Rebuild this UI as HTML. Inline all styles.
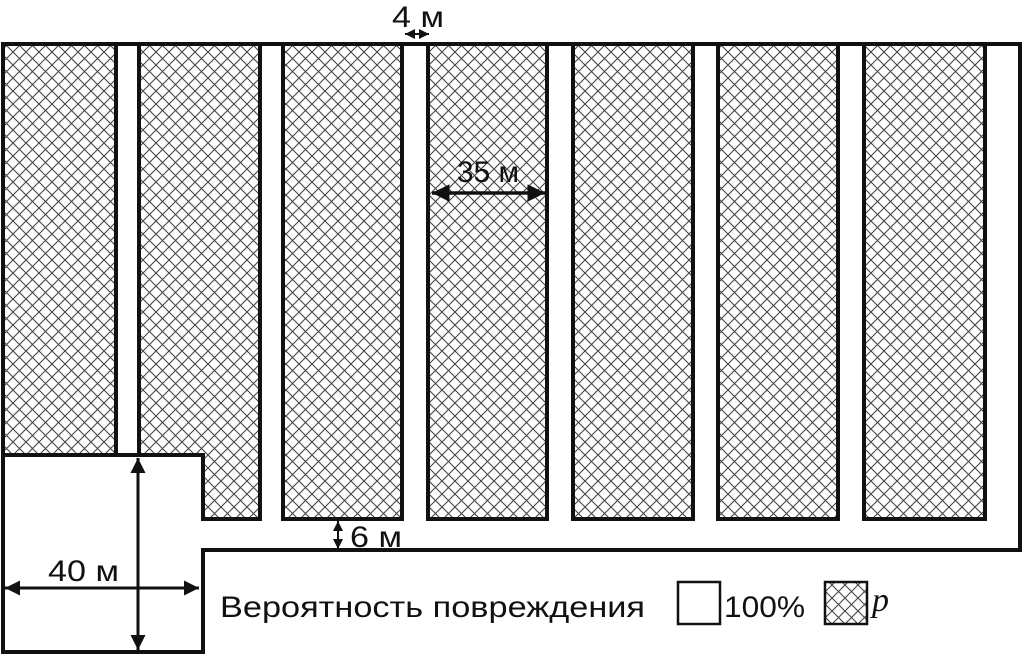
<!DOCTYPE html>
<html><head><meta charset="utf-8"><style>html,body{margin:0;padding:0;background:#fff}svg{display:block}</style></head>
<body>
<svg width="1024" height="655" viewBox="0 0 1024 655" xmlns="http://www.w3.org/2000/svg">
<defs>
<pattern id="h" width="13" height="13" patternUnits="userSpaceOnUse">
<path d="M0,0 L13,13 M13,0 L0,13" stroke="#444" stroke-width="1.1" fill="none"/>
</pattern>
<marker id="a" viewBox="0 0 10 10" refX="10" refY="5" markerWidth="6" markerHeight="5" orient="auto-start-reverse" markerUnits="strokeWidth"><path d="M0,0 L10,5 L0,10 z" fill="#111"/></marker>
<marker id="s" viewBox="0 0 10 10" refX="10" refY="5" markerWidth="5" markerHeight="5" orient="auto-start-reverse" markerUnits="strokeWidth"><path d="M0,0 L10,5 L0,10 z" fill="#111"/></marker>
</defs>
<g stroke="#111" stroke-width="4" fill="url(#h)">
<rect x="3" y="44" width="113" height="411"/>
<path d="M139,44 H260 V519 H203 V455 H139 Z"/>
<rect x="283" y="44" width="119" height="475"/>
<rect x="428" y="44" width="119" height="475"/>
<rect x="573" y="44" width="120" height="475"/>
<rect x="718" y="44" width="120" height="475"/>
<rect x="864" y="44" width="121" height="475"/>
</g>
<path d="M2,44 H1020 V550 H203 V652 H3 V455 H203" stroke="#111" stroke-width="4" fill="none"/>
<g stroke="#111" fill="none">
<line x1="405" y1="34" x2="429" y2="34" stroke-width="2" marker-start="url(#s)" marker-end="url(#s)"/>
<line x1="432" y1="193" x2="545" y2="193" stroke-width="3.5" marker-start="url(#a)" marker-end="url(#a)"/>
<line x1="338" y1="521" x2="338" y2="549" stroke-width="2" marker-start="url(#s)" marker-end="url(#s)"/>
<line x1="5" y1="588" x2="199" y2="588" stroke-width="3" marker-start="url(#a)" marker-end="url(#a)"/>
<line x1="138" y1="458" x2="138" y2="650" stroke-width="3" marker-start="url(#a)" marker-end="url(#a)"/>
</g>
<g font-family="Liberation Sans, sans-serif" font-size="30" fill="#111">
<text x="392" y="27" textLength="52" lengthAdjust="spacingAndGlyphs">4 м</text>
<text x="457" y="182" textLength="62" lengthAdjust="spacingAndGlyphs">35 м</text>
<text x="350" y="547" textLength="52" lengthAdjust="spacingAndGlyphs">6 м</text>
<text x="48" y="581" textLength="71" lengthAdjust="spacingAndGlyphs">40 м</text>
<text x="220" y="617" textLength="425" lengthAdjust="spacingAndGlyphs">Вероятность повреждения</text>
<text x="724" y="617" textLength="81" lengthAdjust="spacingAndGlyphs">100%</text>
</g>
<rect x="678" y="582" width="42" height="42" fill="#fff" stroke="#111" stroke-width="2.5"/>
<rect x="825" y="582" width="42" height="42" fill="url(#h)" stroke="#111" stroke-width="2.5"/>
<text x="872" y="611" font-family="Liberation Serif, serif" font-style="italic" font-size="34" fill="#111">p</text>
</svg>
</body></html>
